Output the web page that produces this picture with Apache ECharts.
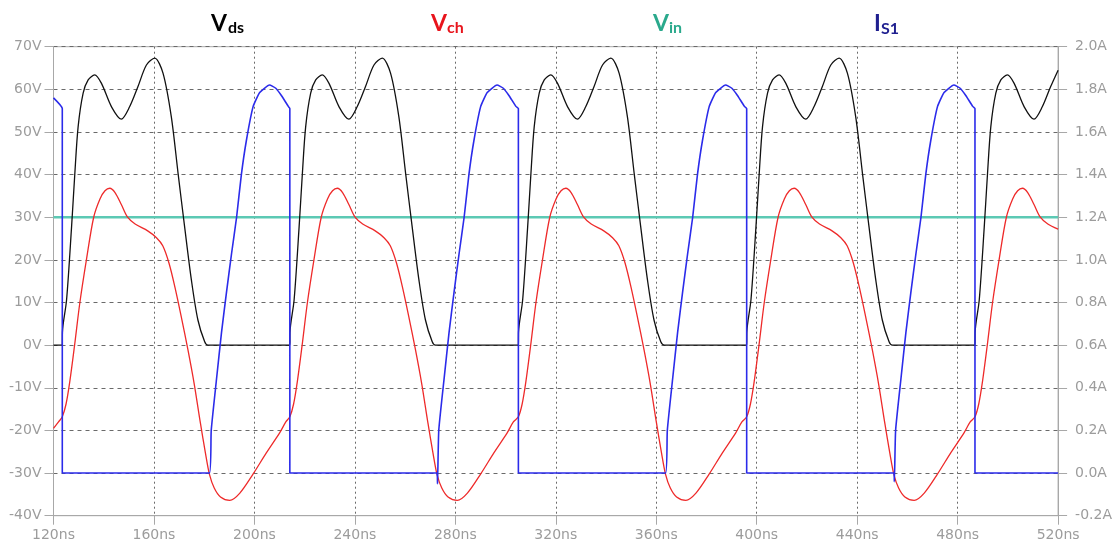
<!DOCTYPE html>
<html>
<head>
<meta charset="utf-8">
<script src="https://cdn.jsdelivr.net/npm/echarts@6/dist/echarts.min.js"></script>
<style>
html,body{margin:0;padding:0;background:#fff;}
#chart{width:1115px;height:546px;}
</style>
</head>
<body>
<div id="chart"></div>
<script>
// x axis ticks (ns)
const xTicks = [120, 160, 200, 240, 280, 320, 360, 400, 440, 480, 520];
// Left axis (V) and right axis (A) ranges
const leftAxisRange = [-40, 70, 10];
const rightAxisRange = [-0.2, 2.0, 0.2];

// V(ds) [ns, V]
const vdsData = [
  [120,0],[123.5,0],
  [123.55,3],[125.2,10.6],[127.2,27.8],[128.5,40.3],[129.8,51.2],[131.8,59.1],[133.8,62.2],[136.4,63.4],[139.1,61.4],[143.1,55.9],[147.0,53.0],[150.3,55.9],[153.6,60.6],[157.0,65.7],[160.3,67.3],[163.6,63.8],[166.9,53.6],[169.6,40.3],[172.2,27.8],[174.9,15.3],[177.5,5.9],[180.2,0.8],[181.5,0],
  [214.1,0],[214.15,3],[215.8,10.6],[217.8,27.8],[219.1,40.3],[220.4,51.2],[222.4,59.1],[224.4,62.2],[227.0,63.4],[229.7,61.4],[233.7,55.9],[237.6,53.0],[240.9,55.9],[244.2,60.6],[247.6,65.7],[250.9,67.3],[254.2,63.8],[257.5,53.6],[260.2,40.3],[262.8,27.8],[265.5,15.3],[268.1,5.9],[270.8,0.8],[272.1,0],
  [305.1,0],[305.15,3],[306.8,10.6],[308.8,27.8],[310.1,40.3],[311.4,51.2],[313.4,59.1],[315.4,62.2],[318.0,63.4],[320.7,61.4],[324.7,55.9],[328.6,53.0],[331.9,55.9],[335.2,60.6],[338.6,65.7],[341.9,67.3],[345.2,63.8],[348.5,53.6],[351.2,40.3],[353.8,27.8],[356.5,15.3],[359.1,5.9],[361.8,0.8],[363.3,0],
  [396.0,0],[396.05,3],[397.7,10.6],[399.7,27.8],[401.0,40.3],[402.3,51.2],[404.3,59.1],[406.3,62.2],[408.9,63.4],[411.6,61.4],[415.6,55.9],[419.5,53.0],[422.8,55.9],[426.1,60.6],[429.5,65.7],[432.8,67.3],[436.1,63.8],[439.4,53.6],[442.1,40.3],[444.7,27.8],[447.4,15.3],[450.0,5.9],[452.7,0.8],[454.0,0],
  [486.9,0],[486.95,3],[488.6,10.6],[490.6,27.8],[491.9,40.3],[493.2,51.2],[495.2,59.1],[497.2,62.2],[499.8,63.4],[502.5,61.4],[506.5,55.9],[510.4,53.0],[513.7,55.9],[517.0,60.6],[520,64.5]
];

// V(ch) [ns, V]
const vchData = [
  [120,-19.5],[122,-18],
  [123.5,-16.8],[125.0,-13.8],[126.5,-8.5],[128.4,0],[130.5,10],[133.1,20],[136.0,30],[138.5,34.3],[140.5,36.2],[142.4,36.8],[144.5,35.8],[147.0,33],[149.5,30],[152.5,28.4],[157.5,26.8],[161.0,25.2],[163.5,23.3],[166.0,19.2],[168.5,13.2],[171.0,6.3],[173.5,-1],[176.0,-9],[178.5,-18.3],[180.5,-25.3],[182.1,-30.3],[184.0,-33.5],[186.5,-35.6],[190.2,-36.4],[194.2,-34.7],[199.5,-30.2],[204.8,-25.2],[210.1,-20.5],[212.5,-18],
  [214.1,-16.8],[215.6,-13.8],[217.1,-8.5],[219.0,0],[221.1,10],[223.7,20],[226.6,30],[229.1,34.3],[231.1,36.2],[233.0,36.8],[235.1,35.8],[237.6,33],[240.1,30],[243.1,28.4],[248.1,26.8],[251.6,25.2],[254.1,23.3],[256.6,19.2],[259.1,13.2],[261.6,6.3],[264.1,-1],[266.6,-9],[269.1,-18.3],[271.1,-25.3],[272.7,-30.3],[274.6,-33.5],[277.1,-35.6],[280.8,-36.4],[284.8,-34.7],[290.1,-30.2],[295.4,-25.2],[300.7,-20.5],[303.1,-18],
  [305.1,-16.8],[306.6,-13.8],[308.1,-8.5],[310.0,0],[312.1,10],[314.7,20],[317.6,30],[320.1,34.3],[322.1,36.2],[324.0,36.8],[326.1,35.8],[328.6,33],[331.1,30],[334.1,28.4],[339.1,26.8],[342.6,25.2],[345.1,23.3],[347.6,19.2],[350.1,13.2],[352.6,6.3],[355.1,-1],[357.6,-9],[360.1,-18.3],[362.1,-25.3],[363.7,-30.3],[365.6,-33.5],[368.1,-35.6],[371.8,-36.4],[375.8,-34.7],[381.1,-30.2],[386.4,-25.2],[391.7,-20.5],[394.1,-18],
  [396.0,-16.8],[397.5,-13.8],[399.0,-8.5],[400.9,0],[403.0,10],[405.6,20],[408.5,30],[411.0,34.3],[413.0,36.2],[414.9,36.8],[417.0,35.8],[419.5,33],[422.0,30],[425.0,28.4],[430.0,26.8],[433.5,25.2],[436.0,23.3],[438.5,19.2],[441.0,13.2],[443.5,6.3],[446.0,-1],[448.5,-9],[451.0,-18.3],[453.0,-25.3],[454.6,-30.3],[456.5,-33.5],[459.0,-35.6],[462.7,-36.4],[466.7,-34.7],[472.0,-30.2],[477.3,-25.2],[482.6,-20.5],[485.0,-18],
  [486.9,-16.8],[488.4,-13.8],[489.9,-8.5],[491.8,0],[493.9,10],[496.5,20],[499.4,30],[501.9,34.3],[503.9,36.2],[505.8,36.8],[507.9,35.8],[510.4,33],[512.9,30],[515.9,28.4],[520,27.2]
];

// V(in) [ns, V]
const vinData = [[120,30],[520,30]];

// I(S1) [ns, A]
const is1Data = [
  [120,1.76],[123.5,1.71],[123.5,0],
  [182.1,0],[182.8,0.2],[184.9,0.44],[186.9,0.66],[188.9,0.85],[190.9,1.03],[192.9,1.2],[194.8,1.4],[196.8,1.56],[199.5,1.72],[202.1,1.785],[206.0,1.82],[208.5,1.805],[210.8,1.77],[213.5,1.72],[214.1,1.71],[214.1,0],
  [272.7,0],[272.9,-0.05],[273.4,0.2],[275.5,0.44],[277.5,0.66],[279.5,0.85],[281.5,1.03],[283.5,1.2],[285.4,1.4],[287.4,1.56],[290.1,1.72],[292.7,1.785],[296.6,1.82],[299.1,1.805],[301.4,1.77],[304.1,1.72],[305.1,1.71],[305.1,0],
  [363.7,0],[364.4,0.2],[366.5,0.44],[368.5,0.66],[370.5,0.85],[372.5,1.03],[374.5,1.2],[376.4,1.4],[378.4,1.56],[381.1,1.72],[383.7,1.785],[387.6,1.82],[390.1,1.805],[392.4,1.77],[395.1,1.72],[396.0,1.71],[396.0,0],
  [454.6,0],[454.8,-0.04],[455.3,0.2],[457.4,0.44],[459.4,0.66],[461.4,0.85],[463.4,1.03],[465.4,1.2],[467.3,1.4],[469.3,1.56],[472.0,1.72],[474.6,1.785],[478.5,1.82],[481.0,1.805],[483.3,1.77],[486.0,1.72],[486.9,1.71],[486.9,0],
  [520,0]
];

// Trace titles: [main, subscript, color, x main, x sub]
const traceTitles = [
  ['V', 'ds', '#000000', 211, 228],
  ['V', 'ch', '#e8141c', 431, 447],
  ['V', 'in', '#2aa98c', 653, 669],
  ['I', 'S1', '#1f1f8f', 874, 881]
];

const labelColor = '#9c9c9c';
const axisColor = '#a8a8a8';
const chart = echarts.init(document.getElementById('chart'), null, {renderer: 'canvas'});

const graphics = [];
traceTitles.forEach(function (t) {
  graphics.push({type: 'text', left: t[3], top: 12, style: {text: t[0], fill: t[2], font: 'bold 23px Lato'}});
  graphics.push({type: 'text', left: t[4], top: t[0] === 'I' ? 21 : 20, style: {text: t[1], fill: t[2], font: 'bold 16px Lato'}});
});

chart.setOption({
  animation: false,
  backgroundColor: '#ffffff',
  grid: {left: 53.5, right: 55.7, top: 46.7, bottom: 30.3, show: true, borderColor: axisColor, borderWidth: 1},
  graphic: graphics,
  xAxis: {
    type: 'value', min: xTicks[0], max: xTicks[xTicks.length - 1], interval: 40,
    axisLine: {show: true, onZero: false, lineStyle: {color: axisColor}},
    axisTick: {show: true, length: 9, lineStyle: {color: axisColor}},
    axisLabel: {formatter: '{value}ns', color: labelColor, fontSize: 14, fontFamily: 'DejaVu Sans', margin: 13},
    splitLine: {show: true, lineStyle: {color: '#6a6a6a', type: [2, 3], width: 1}}
  },
  yAxis: [{
    type: 'value', min: leftAxisRange[0], max: leftAxisRange[1], interval: leftAxisRange[2], position: 'left',
    axisLine: {show: true, onZero: false, lineStyle: {color: axisColor}},
    axisTick: {show: true, length: 9, lineStyle: {color: axisColor}},
    axisLabel: {formatter: '{value}V', color: labelColor, fontSize: 14, fontFamily: 'DejaVu Sans', margin: 12},
    splitLine: {show: true, lineStyle: {color: '#6a6a6a', type: [4, 4], width: 1}}
  }, {
    type: 'value', min: rightAxisRange[0], max: rightAxisRange[1], interval: rightAxisRange[2], position: 'right',
    axisLine: {show: true, onZero: false, lineStyle: {color: axisColor}},
    axisTick: {show: true, length: 9, lineStyle: {color: axisColor}},
    axisLabel: {formatter: function (v) { return v.toFixed(1) + 'A'; }, color: labelColor, fontSize: 14, fontFamily: 'DejaVu Sans', margin: 17},
    splitLine: {show: false}
  }],
  series: [
    {name: 'V(in)', type: 'line', data: vinData, showSymbol: false, lineStyle: {color: '#5cc9b4', width: 2.5}, z: 2},
    {name: 'V(ds)', type: 'line', data: vdsData, showSymbol: false, smooth: 0.3, lineStyle: {color: '#111111', width: 1.3}, z: 3},
    {name: 'V(ch)', type: 'line', data: vchData, showSymbol: false, smooth: 0.3, lineStyle: {color: '#ee2a2a', width: 1.3}, z: 4},
    {name: 'I(S1)', type: 'line', yAxisIndex: 1, data: is1Data, showSymbol: false, smooth: 0.15, lineStyle: {color: '#2b2bea', width: 1.6}, z: 5}
  ]
});
</script>
</body>
</html>
